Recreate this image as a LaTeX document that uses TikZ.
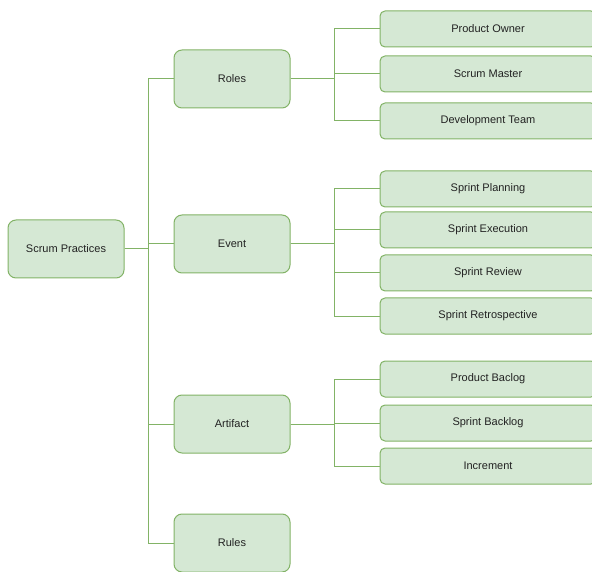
\documentclass[tikz,border=0pt]{standalone}
\usepackage{fontspec}
\setmainfont{Liberation Sans}
\definecolor{gfill}{HTML}{D5E8D4}
\definecolor{gline}{HTML}{82B366}
\definecolor{txt}{HTML}{222222}
\begin{document}
\begin{tikzpicture}[x=1pt,y=-1pt,
  big/.style={draw=gline,fill=gfill,line width=1pt,rounded corners=8pt,minimum width=116pt,minimum height=58pt,inner sep=0pt,font=\fontsize{11}{13}\selectfont,text=txt},
  small/.style={draw=gline,fill=gfill,line width=1pt,rounded corners=5pt,minimum width=216pt,minimum height=36pt,inner sep=0pt,font=\fontsize{11}{13}\selectfont,text=txt},
  link/.style={draw=gline,line width=1pt}]
\useasboundingbox (0,0) rectangle (592,572);
\node[big] (sp) at (66,249) {Scrum Practices};
\node[big] (roles) at (232,79) {Roles};
\node[big] (event) at (232,244) {Event};
\node[big] (art) at (232,424) {Artifact};
\node[big] (rules) at (232,543) {Rules};
\node[small] (po) at (488,29) {Product Owner};
\node[small] (sm) at (488,74) {Scrum Master};
\node[small] (dt) at (488,121) {Development Team};
\node[small] (spl) at (488,189) {Sprint Planning};
\node[small] (se) at (488,230) {Sprint Execution};
\node[small] (sr) at (488,273) {Sprint Review};
\node[small] (sre) at (488,316) {Sprint Retrospective};
\node[small] (pb) at (488,379) {Product Baclog};
\node[small] (sb) at (488,423) {Sprint Backlog};
\node[small] (inc) at (488,466) {Increment};
\coordinate (tx) at (148,0);
\coordinate (bx) at (334,0);
\foreach \c in {roles,event,art,rules}
  \draw[link] (sp.east) -- (sp.east -| tx) |- (\c.west);
\foreach \c in {po,sm,dt}
  \draw[link] (roles.east) -- (roles.east -| bx) |- (\c.west);
\foreach \c in {spl,se,sr,sre}
  \draw[link] (event.east) -- (event.east -| bx) |- (\c.west);
\foreach \c in {pb,sb,inc}
  \draw[link] (art.east) -- (art.east -| bx) |- (\c.west);
\end{tikzpicture}
\end{document}
